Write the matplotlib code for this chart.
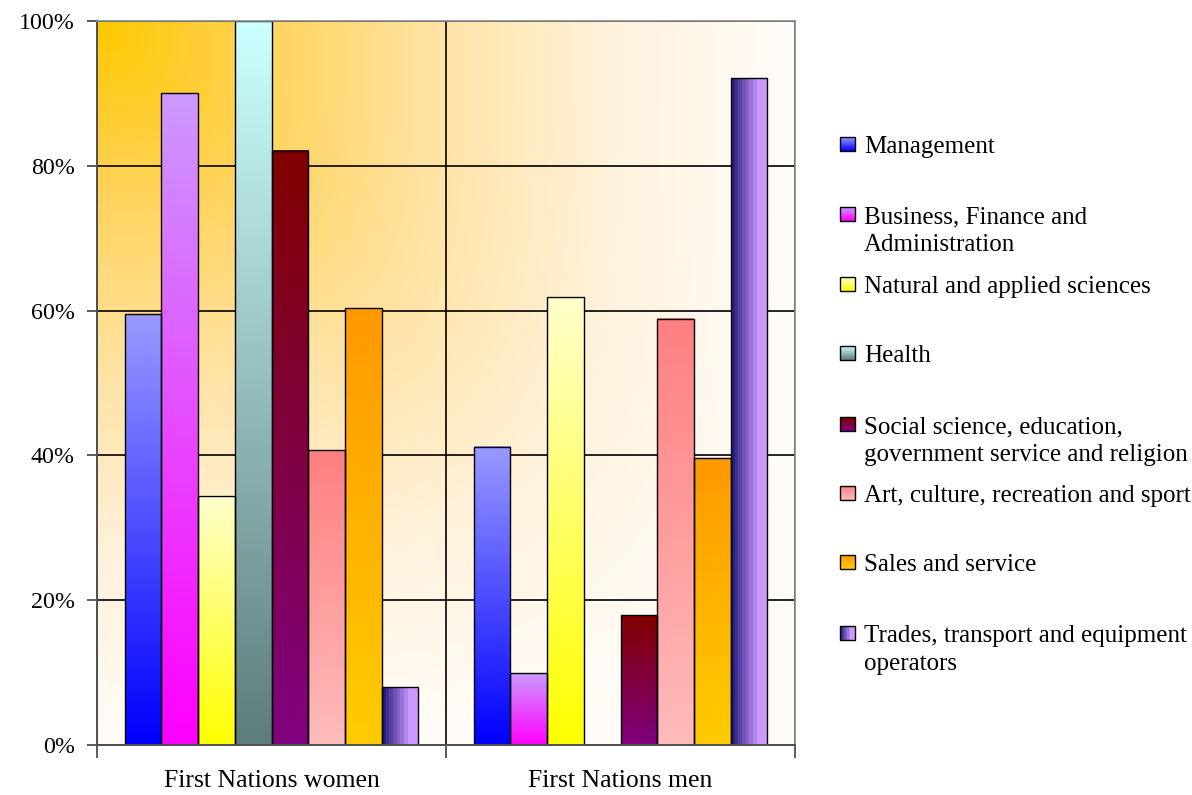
import numpy as np
import matplotlib
matplotlib.use("Agg")
import matplotlib.pyplot as plt
from matplotlib.patches import Rectangle
from matplotlib.ticker import FixedLocator, NullFormatter

plt.rcParams['font.family'] = ['Liberation Serif', 'DejaVu Serif']

# ---- data -------------------------------------------------------------
groups = ["First Nations women", "First Nations men"]
occupations = [
    "Management",
    "Business, Finance and\nAdministration",
    "Natural and applied sciences",
    "Health",
    "Social science, education,\ngovernment service and religion",
    "Art, culture, recreation and sport",
    "Sales and service",
    "Trades, transport and equipment\noperators",
]
women = [0.595, 0.900, 0.344, 1.000, 0.821, 0.407, 0.603, 0.080]
men = [0.412, 0.099, 0.619, 0.000, 0.179, 0.589, 0.396, 0.921]
y_ticks = [0.0, 0.2, 0.4, 0.6, 0.8, 1.0]
y_tick_labels = ["0%", "20%", "40%", "60%", "80%", "100%"]

# fill gradients: (top colour, bottom colour); the last series is banded left->right
fills = [
    ((153, 153, 255), (0, 0, 255)),
    ((204, 153, 255), (255, 0, 255)),
    ((255, 255, 204), (255, 255, 0)),
    ((204, 255, 255), (95, 125, 125)),
    ((128, 0, 0), (128, 0, 128)),
    ((255, 128, 128), (255, 187, 187)),
    ((255, 153, 0), (255, 204, 0)),
    ((40, 30, 128), (204, 153, 255)),
]
HORIZONTAL = {7}


def vertical_grad(top, bottom, n=64):
    t = np.linspace(0, 1, n)[:, None]
    top = np.array(top) / 255.0
    bottom = np.array(bottom) / 255.0
    return (top * (1 - t) + bottom * t)[:, None, :]


def banded_grad(left, right, steps=8, tail=2):
    t = np.linspace(0, 1, steps)[:, None]
    left = np.array(left) / 255.0
    right = np.array(right) / 255.0
    cols = left * (1 - t) + right * t
    cols = np.vstack([cols] + [cols[-1:]] * tail)
    return cols[None, :, :]


def fill_image(i):
    top, bottom = fills[i]
    if i in HORIZONTAL:
        return banded_grad(top, bottom)
    return vertical_grad(top, bottom)


W, H = 1192, 795
fig = plt.figure(figsize=(W / 100, H / 100), dpi=100)
fig.patch.set_facecolor("white")

left_px, right_px, top_px, bottom_px = 97, 795, 21, 745
ax = fig.add_axes([left_px / W, (H - bottom_px) / H,
                   (right_px - left_px) / W, (bottom_px - top_px) / H])

# plot-area background: warm top-left corner fading to white
nx, ny = 300, 240
dx = np.linspace(0, 1, nx)[None, :]
dy = np.linspace(0, 1, ny)[:, None]
p = 4.0
t = np.clip((dx ** p + dy ** p) ** (1 / p), 0, 1)
stops_t = [0.0, 0.25, 0.5, 0.75, 1.0]
stops_c = np.array([(255, 200, 0), (255, 212, 95), (255, 228, 168),
                    (255, 243, 222), (255, 252, 248)]) / 255.0
bg = np.stack([np.interp(t, stops_t, stops_c[:, k]) for k in range(3)], axis=-1)
ax.imshow(bg, extent=[-0.5, 1.5, 0.0, 1.0], aspect="auto", zorder=0,
          interpolation="bilinear", origin="upper")

# bars
n = len(occupations)
bw = 1.0 / (n + 1.5)
for g, vals in enumerate([women, men]):
    for i, v in enumerate(vals):
        if v <= 0:
            continue
        x0 = g + (i - n / 2) * bw
        img = fill_image(i)
        interp = "nearest" if i in HORIZONTAL else "bilinear"
        ax.imshow(img, extent=[x0, x0 + bw, 0, v], aspect="auto",
                  zorder=2, interpolation=interp)
        ax.add_patch(Rectangle((x0, 0), bw, v, fill=False, edgecolor="black",
                               linewidth=1.0, zorder=3))

ax.set_xlim(-0.5, 1.5)
ax.set_ylim(0, 1.0)
ax.set_aspect("auto")

# axes, grid and ticks
ax.set_axisbelow(True)
ax.yaxis.set_major_locator(FixedLocator(y_ticks))
ax.set_yticklabels(y_tick_labels)
ax.xaxis.set_major_locator(FixedLocator([-0.5, 0.5, 1.5]))
ax.xaxis.set_major_formatter(NullFormatter())
ax.xaxis.set_minor_locator(FixedLocator([0, 1]))
ax.set_xticklabels(groups, minor=True)
ax.tick_params(axis="x", which="minor", length=0, pad=18, labelsize=18.5)
ax.tick_params(axis="x", which="major", direction="out", length=9,
               width=1.2, color="#404040")
ax.tick_params(axis="y", direction="out", length=7, width=1.2,
               color="#404040", pad=9, labelsize=17.3)
ax.grid(True, which="major", axis="both", color="black", linewidth=1.2,
        zorder=1)
for gl in ax.get_xgridlines() + ax.get_ygridlines():
    gl.set_zorder(1)
for side in ("top", "right"):
    ax.spines[side].set_color("#8a8a8a")
    ax.spines[side].set_linewidth(1.2)
for side in ("left", "bottom"):
    ax.spines[side].set_color("#505050")
    ax.spines[side].set_linewidth(1.4)
for sp in ax.spines.values():
    sp.set_zorder(4)

# legend drawn in figure pixel space
lg = fig.add_axes([0, 0, 1, 1], zorder=5)
lg.set_xlim(0, W)
lg.set_ylim(H, 0)
lg.axis("off")
entry_y = [144, 214, 284, 353, 424, 493, 562, 633]
line_gap = 28
for i, (label, y) in enumerate(zip(occupations, entry_y)):
    img = fill_image(i)
    interp = "nearest" if i in HORIZONTAL else "bilinear"
    lg.imshow(img, extent=[840, 855, y + 7, y - 7], aspect="auto",
              interpolation=interp, zorder=5)
    lg.add_patch(Rectangle((840, y - 7), 15, 14, fill=False,
                           edgecolor="black", linewidth=1.0, zorder=6))
    for k, line in enumerate(label.split("\n")):
        lg.text(864, y + 3 + k * line_gap, line, fontsize=18, va="center",
                ha="left", color="black")
lg.set_xlim(0, W)
lg.set_ylim(H, 0)

fig.savefig("out.png", dpi=100)
